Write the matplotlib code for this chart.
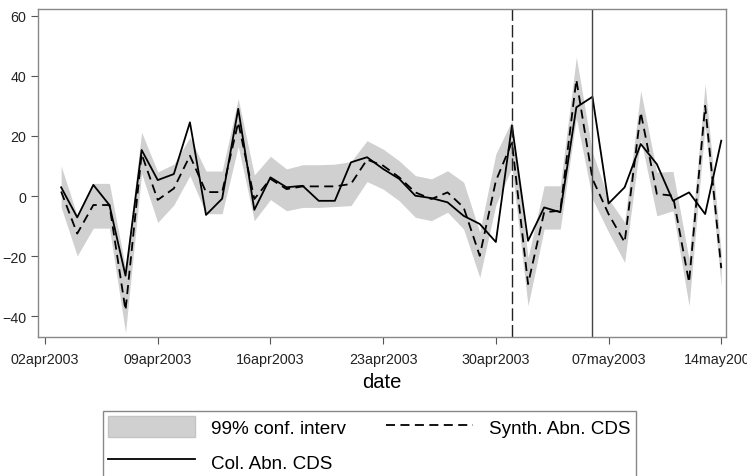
import datetime as dt
import matplotlib
matplotlib.use("Agg")
import matplotlib.pyplot as plt
import matplotlib.dates as mdates
from matplotlib.patches import Patch
from matplotlib.lines import Line2D

plt.rcParams['font.family'] = ['Liberation Sans', 'DejaVu Sans']

# daily data, 03apr2003 .. 14may2003
start = dt.datetime(2003, 4, 3)
dates = [start + dt.timedelta(days=i) for i in range(42)]

col_abn = [2.9, -7.1, 3.7, -3.0, -26.5, 15.3, 5.3, 7.3, 24.5, -6.3,
           -0.9, 29.0, -4.6, 6.2, 2.9, 3.4, -1.6, -1.6, 11.2, 12.9,
           9.0, 5.7, 0.1, -0.7, -2.1, -6.6, -9.3, -15.3, 23.5, -14.9,
           -3.8, -5.4, 29.5, 33.0, -2.5, 2.9, 17.3, 10.6, -1.6, 1.2,
           -6.0, 18.4]
synth_abn = [1.5, -12.5, -3.0, -3.0, -38.0, 14.0, -1.3, 2.5, 13.4, 1.3,
             1.3, 24.5, -1.0, 5.7, 2.3, 3.2, 3.2, 3.2, 4.0, 12.1,
             10.1, 6.2, 1.2, -1.0, 1.2, -3.8, -19.9, 5.0, 17.9, -29.3,
             -5.4, -4.9, 38.7, 5.7, -6.0, -15.4, 27.8, 0.7, 0.1, -28.7,
             30.0, -24.0]
ci_upper = [10.0, -6.5, 4.2, 4.2, -24.0, 21.2, 8.0, 10.6, 19.5, 8.3,
            8.3, 32.4, 7.0, 13.2, 9.0, 10.4, 10.4, 10.6, 11.4, 18.4,
            15.6, 11.7, 6.8, 5.7, 8.4, 4.6, -12.0, 14.0, 25.1, -20.5,
            3.4, 3.4, 46.2, 14.5, -1.0, -8.7, 35.0, 7.9, 8.2, -21.0,
            37.3, -19.0]
ci_lower = [-3.7, -19.9, -10.7, -10.7, -45.4, 7.5, -8.8, -3.0, 6.8, -5.9,
            -5.9, 16.5, -8.2, -1.2, -4.9, -3.8, -3.8, -3.5, -3.2, 4.8,
            2.3, -1.6, -7.1, -8.2, -5.4, -11.0, -27.1, -3.0, 9.5, -36.5,
            -11.0, -11.0, 26.0, -1.0, -12.0, -22.1, 19.0, -6.6, -4.9, -36.5,
            23.4, -30.0]

event_dates = [dt.datetime(2003, 5, 1), dt.datetime(2003, 5, 6)]
tick_dates = [dt.datetime(2003, 4, 2) + dt.timedelta(days=7 * i) for i in range(7)]
yticks = [-40, -20, 0, 20, 40, 60]

fig = plt.figure(figsize=(7.47, 4.77), dpi=100)
ax = fig.add_axes([0.051, 0.2914, 0.921, 0.6876])

ax.fill_between(dates, ci_lower, ci_upper, color='#d0d0d0', lw=0)
ax.plot(dates, synth_abn, color='black', lw=1.3, ls=(0, (5, 3)))
ax.plot(dates, col_abn, color='black', lw=1.3)
ax.axvline(event_dates[0], color='#222222', lw=1.0, ls=(0, (9, 3)))
ax.axvline(event_dates[1], color='#444444', lw=1.0)

ax.set_xlim(dt.datetime(2003, 4, 2) - dt.timedelta(days=0.43),
            dt.datetime(2003, 4, 2) + dt.timedelta(days=42.3))
ax.set_ylim(-46.9, 62.2)
ax.set_xticks(tick_dates)
ax.xaxis.set_major_formatter(
    plt.FuncFormatter(lambda v, p: mdates.num2date(v).strftime('%d%b%Y').lower()))
ax.set_yticks(yticks)
ax.tick_params(axis='both', direction='out', length=5, color='#555555',
               labelsize=10.3, labelcolor='#222222', width=0.8)
ax.tick_params(axis='x', pad=6)
for s in ax.spines.values():
    s.set_color('#888888')
    s.set_linewidth(1.0)
ax.set_xlabel('date', fontsize=14.5, labelpad=4)

handles = [Patch(facecolor='#d0d0d0', edgecolor='#c4c4c4'),
           Line2D([], [], color='black', lw=1.3),
           Line2D([], [], color='black', lw=1.3, ls=(0, (5, 3)))]
labels = ['99% conf. interv', 'Col. Abn. CDS', 'Synth. Abn. CDS']
leg = fig.legend(handles, labels, ncol=2, loc='upper left',
                 bbox_to_anchor=(0.1246, 0.157), fontsize=13.6,
                 handlelength=4.6, handleheight=1.3, handletextpad=0.85,
                 columnspacing=2.1, labelspacing=0.75, borderpad=0.3,
                 fancybox=False, framealpha=1)
leg.get_frame().set_edgecolor('#888888')
leg.get_frame().set_linewidth(1.0)

fig.savefig('out.png', dpi=100)
